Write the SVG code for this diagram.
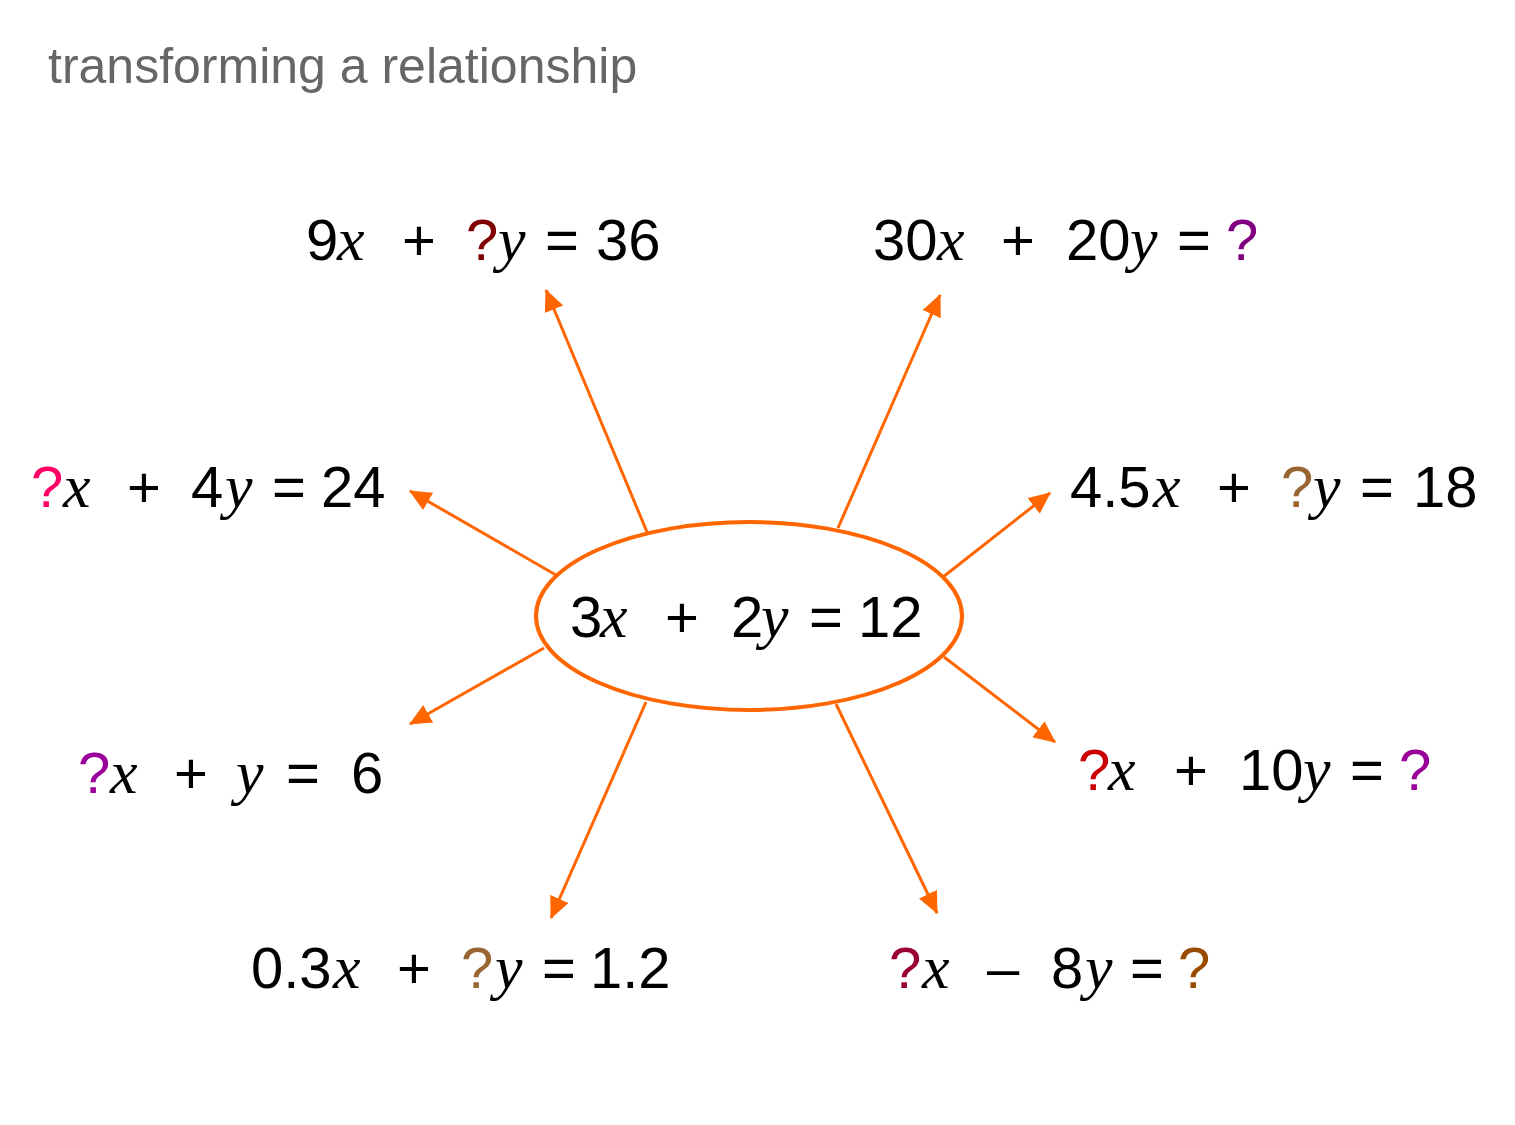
<svg xmlns="http://www.w3.org/2000/svg" width="1515" height="1125" viewBox="0 0 1515 1125">
<defs>
<style>
.n{font-family:"Liberation Sans",Arial,sans-serif;font-size:58px;fill:#000}
.v{font-family:"Liberation Serif","Times New Roman",serif;font-style:italic;font-size:62px}
.title{font-family:"Liberation Sans",Arial,sans-serif;font-size:50px;fill:#666666}
.c{stroke:#FF6600;stroke-width:3;fill:none}
</style>
<marker id="ah" viewBox="0 0 10 10" refX="9.5" refY="5" markerWidth="22" markerHeight="20" markerUnits="userSpaceOnUse" orient="auto" preserveAspectRatio="none">
<path d="M0,0 L10,5 L0,10 z" fill="#FF6600"/>
</marker>
</defs>
<rect width="1515" height="1125" fill="#fff"/>
<text class="title" x="48" y="83">transforming a relationship</text>
<g id="connectors">
<line class="c" x1="647" y1="532" x2="546" y2="290" marker-end="url(#ah)"/>
<line class="c" x1="838" y1="528" x2="940" y2="295" marker-end="url(#ah)"/>
<line class="c" x1="556" y1="575" x2="410" y2="491" marker-end="url(#ah)"/>
<line class="c" x1="943" y1="577" x2="1050" y2="493" marker-end="url(#ah)"/>
<line class="c" x1="544" y1="648" x2="410" y2="724" marker-end="url(#ah)"/>
<line class="c" x1="944" y1="657" x2="1055" y2="742" marker-end="url(#ah)"/>
<line class="c" x1="646" y1="702" x2="551" y2="918" marker-end="url(#ah)"/>
<line class="c" x1="836" y1="704" x2="937" y2="913" marker-end="url(#ah)"/>
</g>
<g id="center">
<ellipse cx="749" cy="616" rx="213" ry="94" fill="#fff" stroke="#FF6600" stroke-width="4"/>
<text class="n" y="637"><tspan x="570">3</tspan><tspan class="v" x="600">x</tspan><tspan x="665">+</tspan><tspan x="731">2</tspan><tspan class="v" x="761">y</tspan><tspan x="809">=</tspan><tspan x="858">12</tspan></text>
</g>
<g id="eq1">
<text class="n" y="260"><tspan x="306">9</tspan><tspan class="v" x="337">x</tspan><tspan x="402">+</tspan><tspan x="466" fill="#800000">?</tspan><tspan class="v" x="498">y</tspan><tspan x="545">=</tspan><tspan x="596">36</tspan></text>
</g>
<g id="eq2">
<text class="n" y="260"><tspan x="873">30</tspan><tspan class="v" x="937">x</tspan><tspan x="1001">+</tspan><tspan x="1066">20</tspan><tspan class="v" x="1130">y</tspan><tspan x="1177">=</tspan><tspan x="1226" fill="#800080">?</tspan></text>
</g>
<g id="eq3">
<text class="n" y="507"><tspan x="31" fill="#FF0066">?</tspan><tspan class="v" x="63">x</tspan><tspan x="127">+</tspan><tspan x="191">4</tspan><tspan class="v" x="225">y</tspan><tspan x="272">=</tspan><tspan x="321">24</tspan></text>
</g>
<g id="eq4">
<text class="n" y="507"><tspan x="1070">4.5</tspan><tspan class="v" x="1153">x</tspan><tspan x="1217">+</tspan><tspan x="1281" fill="#996633">?</tspan><tspan class="v" x="1313">y</tspan><tspan x="1360">=</tspan><tspan x="1413">18</tspan></text>
</g>
<g id="eq5">
<text class="n" y="793"><tspan x="78" fill="#990099">?</tspan><tspan class="v" x="110">x</tspan><tspan x="174">+</tspan><tspan class="v" x="236">y</tspan><tspan x="286">=</tspan><tspan x="351">6</tspan></text>
</g>
<g id="eq6">
<text class="n" y="790"><tspan x="1078" fill="#CC0000">?</tspan><tspan class="v" x="1108">x</tspan><tspan x="1174">+</tspan><tspan x="1239">10</tspan><tspan class="v" x="1303">y</tspan><tspan x="1350">=</tspan><tspan x="1399" fill="#990099">?</tspan></text>
</g>
<g id="eq7">
<text class="n" y="988"><tspan x="251">0.3</tspan><tspan class="v" x="333">x</tspan><tspan x="397">+</tspan><tspan x="461" fill="#996633">?</tspan><tspan class="v" x="495">y</tspan><tspan x="542">=</tspan><tspan x="590">1.2</tspan></text>
</g>
<g id="eq8">
<text class="n" y="988"><tspan x="889" fill="#990033">?</tspan><tspan class="v" x="922">x</tspan><tspan x="987">–</tspan><tspan x="1051">8</tspan><tspan class="v" x="1085">y</tspan><tspan x="1130">=</tspan><tspan x="1178" fill="#994C00">?</tspan></text>
</g>
</svg>
